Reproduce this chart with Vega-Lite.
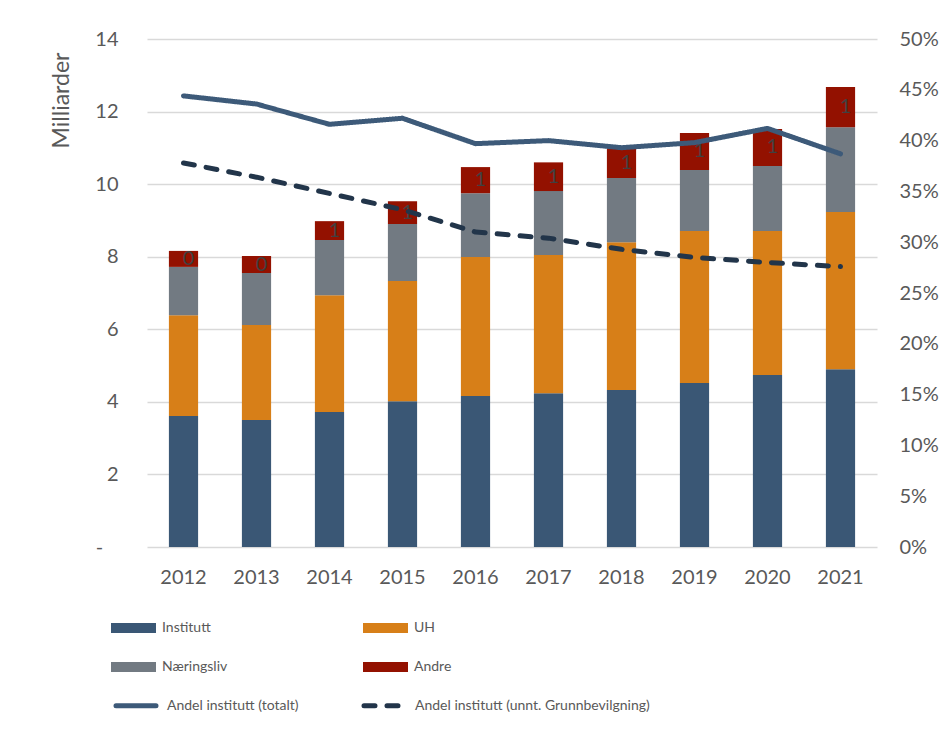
{
  "$schema": "https://vega.github.io/schema/vega-lite/v6.json",
  "width": 730,
  "height": 508,
  "autosize": {"type": "none"},
  "padding": {"left": 147, "top": 39, "right": 70, "bottom": 184},
  "background": "white",
  "config": {
    "font": "Lato",
    "view": {"stroke": null},
    "axis": {"domain": false, "ticks": false, "labelColor": "#595959", "labelFontSize": 20, "labelFont": "Lato", "titleFont": "Lato"},
    "legend": {"labelFont": "Lato", "labelFontSize": 14, "labelColor": "#595959", "labelLimit": 400, "padding": 0, "title": null}
  },
  "datasets": {
    "bars": [
      {"year": 2012, "series": "Institutt", "value": 3.61},
      {"year": 2012, "series": "UH", "value": 2.78},
      {"year": 2012, "series": "Næringsliv", "value": 1.33},
      {"year": 2012, "series": "Andre", "value": 0.44},
      {"year": 2013, "series": "Institutt", "value": 3.50},
      {"year": 2013, "series": "UH", "value": 2.62},
      {"year": 2013, "series": "Næringsliv", "value": 1.43},
      {"year": 2013, "series": "Andre", "value": 0.47},
      {"year": 2014, "series": "Institutt", "value": 3.72},
      {"year": 2014, "series": "UH", "value": 3.22},
      {"year": 2014, "series": "Næringsliv", "value": 1.52},
      {"year": 2014, "series": "Andre", "value": 0.52},
      {"year": 2015, "series": "Institutt", "value": 4.02},
      {"year": 2015, "series": "UH", "value": 3.31},
      {"year": 2015, "series": "Næringsliv", "value": 1.57},
      {"year": 2015, "series": "Andre", "value": 0.63},
      {"year": 2016, "series": "Institutt", "value": 4.16},
      {"year": 2016, "series": "UH", "value": 3.83},
      {"year": 2016, "series": "Næringsliv", "value": 1.76},
      {"year": 2016, "series": "Andre", "value": 0.72},
      {"year": 2017, "series": "Institutt", "value": 4.24},
      {"year": 2017, "series": "UH", "value": 3.81},
      {"year": 2017, "series": "Næringsliv", "value": 1.76},
      {"year": 2017, "series": "Andre", "value": 0.79},
      {"year": 2018, "series": "Institutt", "value": 4.33},
      {"year": 2018, "series": "UH", "value": 4.07},
      {"year": 2018, "series": "Næringsliv", "value": 1.77},
      {"year": 2018, "series": "Andre", "value": 0.82},
      {"year": 2019, "series": "Institutt", "value": 4.52},
      {"year": 2019, "series": "UH", "value": 4.19},
      {"year": 2019, "series": "Næringsliv", "value": 1.68},
      {"year": 2019, "series": "Andre", "value": 1.02},
      {"year": 2020, "series": "Institutt", "value": 4.74},
      {"year": 2020, "series": "UH", "value": 3.97},
      {"year": 2020, "series": "Næringsliv", "value": 1.79},
      {"year": 2020, "series": "Andre", "value": 1.02},
      {"year": 2021, "series": "Institutt", "value": 4.90},
      {"year": 2021, "series": "UH", "value": 4.33},
      {"year": 2021, "series": "Næringsliv", "value": 2.34},
      {"year": 2021, "series": "Andre", "value": 1.11}
    ],
    "lines": [
      {"year": 2012, "series": "Andel institutt (totalt)", "pct": 0.444},
      {"year": 2013, "series": "Andel institutt (totalt)", "pct": 0.436},
      {"year": 2014, "series": "Andel institutt (totalt)", "pct": 0.416},
      {"year": 2015, "series": "Andel institutt (totalt)", "pct": 0.422},
      {"year": 2016, "series": "Andel institutt (totalt)", "pct": 0.397},
      {"year": 2017, "series": "Andel institutt (totalt)", "pct": 0.400},
      {"year": 2018, "series": "Andel institutt (totalt)", "pct": 0.393},
      {"year": 2019, "series": "Andel institutt (totalt)", "pct": 0.398},
      {"year": 2020, "series": "Andel institutt (totalt)", "pct": 0.412},
      {"year": 2021, "series": "Andel institutt (totalt)", "pct": 0.387},
      {"year": 2012, "series": "Andel institutt (unnt. Grunnbevilgning)", "pct": 0.378},
      {"year": 2013, "series": "Andel institutt (unnt. Grunnbevilgning)", "pct": 0.364},
      {"year": 2014, "series": "Andel institutt (unnt. Grunnbevilgning)", "pct": 0.348},
      {"year": 2015, "series": "Andel institutt (unnt. Grunnbevilgning)", "pct": 0.332},
      {"year": 2016, "series": "Andel institutt (unnt. Grunnbevilgning)", "pct": 0.310},
      {"year": 2017, "series": "Andel institutt (unnt. Grunnbevilgning)", "pct": 0.304},
      {"year": 2018, "series": "Andel institutt (unnt. Grunnbevilgning)", "pct": 0.293},
      {"year": 2019, "series": "Andel institutt (unnt. Grunnbevilgning)", "pct": 0.285},
      {"year": 2020, "series": "Andel institutt (unnt. Grunnbevilgning)", "pct": 0.280},
      {"year": 2021, "series": "Andel institutt (unnt. Grunnbevilgning)", "pct": 0.276}
    ]
  },
  "layer": [
    {
      "data": {"name": "bars"},
      "transform": [
        {"calculate": "indexof(['Institutt','UH','Næringsliv','Andre'], datum.series)", "as": "ord"}
      ],
      "encoding": {
        "x": {
          "field": "year", "type": "ordinal",
          "scale": {"paddingInner": 0.6, "paddingOuter": 0.3},
          "axis": {"title": null, "labelAngle": 0, "grid": false, "labelPadding": 20}
        },
        "y": {
          "field": "value", "type": "quantitative", "stack": "zero",
          "scale": {"domain": [0, 14], "nice": false},
          "axis": {
            "values": [0, 2, 4, 6, 8, 10, 12, 14],
            "labelExpr": "datum.value == 0 ? '-\u00a0\u00a0\u00a0\u200b' : datum.label",
            "grid": true, "gridColor": "#D9D9D9", "gridWidth": 1.5,
            "labelPadding": 29,
            "title": "Milliarder", "titleFontSize": 23, "titleFontWeight": "normal", "titleColor": "#595959",
            "titleAngle": 270, "titleX": -86, "titleY": 61, "titleAlign": "center", "titleBaseline": "middle"
          }
        },
        "order": {"field": "ord", "type": "quantitative"}
      },
      "layer": [
        {
          "mark": {"type": "bar"},
          "encoding": {
            "fill": {
              "field": "series", "type": "nominal",
              "scale": {
                "domain": ["Institutt", "UH", "Næringsliv", "Andre"],
                "range": ["#3A5775", "#D77F18", "#727A82", "#931100"]
              },
              "legend": {
                "orient": "none", "legendX": -36, "legendY": 579,
                "direction": "horizontal", "columns": 2,
                "symbolType": "M-1,-0.5H3.5V0.5H-1Z", "symbolStrokeWidth": 0,
                "symbolSize": 400, "labelOffset": 31, "rowPadding": 22, "columnPadding": 135
              }
            }
          }
        },
        {
          "mark": {"type": "text", "dx": 5, "fontSize": 20, "color": "#404040", "font": "Lato", "baseline": "middle", "align": "center"},
          "encoding": {
            "y": {"field": "value", "type": "quantitative", "stack": "zero", "bandPosition": 0.5},
            "detail": {"field": "series"},
            "text": {"condition": {"test": "datum.series === 'Andre'", "field": "value", "format": ".0f"}, "value": ""}
          }
        }
      ]
    },
    {
      "data": {"name": "lines"},
      "mark": {"type": "line", "strokeWidth": 5, "strokeCap": "round", "strokeJoin": "round"},
      "encoding": {
        "x": {"field": "year", "type": "ordinal"},
        "y": {
          "field": "pct", "type": "quantitative",
          "scale": {"domain": [0, 0.5], "nice": false},
          "axis": {
            "orient": "right", "title": null, "grid": false, "format": ".0%",
            "values": [0, 0.05, 0.1, 0.15, 0.2, 0.25, 0.3, 0.35, 0.4, 0.45, 0.5],
            "labelPadding": 22
          }
        },
        "stroke": {
          "field": "series", "type": "nominal",
          "scale": {
            "domain": ["Andel institutt (totalt)", "Andel institutt (unnt. Grunnbevilgning)"],
            "range": ["#3D5A79", "#22354A"]
          },
          "legend": {
            "orient": "none", "legendX": -36, "legendY": 654,
            "direction": "horizontal", "columns": 2,
            "symbolType": "M-0.75,0H3.25", "symbolStrokeWidth": 5,
            "symbolSize": 400, "labelOffset": 31, "columnPadding": 55,
            "encode": {
              "symbols": {
                "update": {
                  "strokeCap": {"value": "round"},
                  "strokeDash": {"signal": "datum.index === 1 ? [6, 10] : [1, 0]"}
                }
              }
            }
          }
        },
        "strokeDash": {
          "field": "series", "type": "nominal",
          "scale": {
            "domain": ["Andel institutt (totalt)", "Andel institutt (unnt. Grunnbevilgning)"],
            "range": [[1, 0], [11, 12]]
          }
        }
      }
    }
  ],
  "resolve": {"scale": {"y": "independent"}}
}
